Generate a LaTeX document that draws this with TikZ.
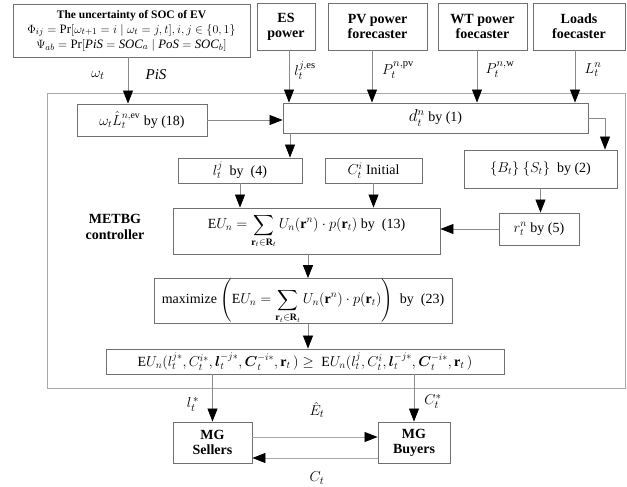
\documentclass[tikz,border=0pt]{standalone}
\usepackage{amsmath}
\usepackage{fontspec}
\setmainfont{Liberation Serif}
\usetikzlibrary{arrows.meta}
\definecolor{boxgray}{HTML}{707070}
\definecolor{linegray}{HTML}{8A8A8A}
\definecolor{ctrlgray}{HTML}{A8A8A8}
\tikzset{
  box/.style={draw=boxgray, line width=0.9pt, rectangle, inner sep=0pt, align=center, font=\fontsize{14}{16}\selectfont},
  hbox/.style={box, font=\fontsize{14}{15}\selectfont\bfseries},
  conn/.style={draw=linegray, line width=0.8pt, -{Triangle[length=13pt,width=10pt,color=black]}},
  lbl/.style={inner sep=0pt, font=\fontsize{15}{17}\selectfont},
}
\newcommand{\EE}{\mathrm{E}}
\begin{document}
\begin{tikzpicture}[x=1pt,y=-1pt]
\useasboundingbox (0,0) rectangle (627,487);
% container
\node[draw=ctrlgray, line width=0.9pt, minimum width=578pt, minimum height=295pt, inner sep=0pt] (ctrl) at (336,240.5) {};
% top boxes
\node[box, minimum width=237pt, minimum height=53pt] (unc) at (131.5,30.5)
  {{\fontsize{11.5}{12}\selectfont\bfseries The uncertainty of SOC of EV}\\[-1pt]
   {\fontsize{12.8}{14}\selectfont $\Phi_{ij}=\Pr[\omega_{t+1}=i\mid\omega_t=j,t],i,j\in\{0,1\}$}\\[-1pt]
   {\fontsize{12.8}{14}\selectfont $\Psi_{ab}=\Pr[\mathit{PiS}=\mathit{SOC}_a\mid \mathit{PoS}=\mathit{SOC}_b]$}};
\node[hbox, minimum width=58pt, minimum height=47pt] (es) at (286,26.5) {ES\\power};
\node[hbox, minimum width=99pt, minimum height=47pt] (pv) at (377.5,26.5) {PV power\\forecaster};
\node[hbox, minimum width=89pt, minimum height=47pt] (wt) at (482.5,26.5) {WT power\\foecaster};
\node[hbox, minimum width=92pt, minimum height=47pt] (ld) at (579,26.5) {Loads\\foecaster};
% inner boxes
\node[box, minimum width=130pt, minimum height=32pt] (om) at (142,120) {$\omega_t\hat{L}_t^{n,\mathrm{ev}}$ by (18)};
\node[box, minimum width=305pt, minimum height=30pt] (d) at (435.5,118) {{\fontsize{16}{18}\selectfont$d_t^n$} by (1)};
\node[box, minimum width=124pt, minimum height=25pt] (l) at (240,170.5) {$l_t^j$\ \ by\ \ (4)};
\node[box, minimum width=97pt, minimum height=25pt] (C) at (373.5,170.5) {$C_t^i$ Initial};
\node[box, minimum width=153pt, minimum height=38pt] (B) at (540.5,169) {$\{B_t\}\ \{S_t\}$\ \ by (2)};
\node[box, minimum width=80pt, minimum height=32pt] (r) at (539,229) {$r_t^n$ by (5)};
\node[box, minimum width=267pt, minimum height=46pt] (EU) at (306.5,231)
  {$\EE U_n=\displaystyle\sum_{\mathbf{r}_t\in\mathbf{R}_t}U_n(\mathbf{r}^n)\cdot p(\mathbf{r}_t)$ by\ \ (13)};
\node[box, minimum width=298pt, minimum height=40pt] (mx) at (303,301)
  {maximize $\left(\EE U_n=\displaystyle\sum_{\mathbf{r}_t\in\mathbf{R}_t}U_n(\mathbf{r}^n)\cdot p(\mathbf{r}_t)\right)$\ \ by\ \ (23)};
\node[box, minimum width=398pt, minimum height=25pt] (iq) at (305,361.5)
  {$\EE U_n(l_t^{j*},C_t^{i*},\boldsymbol{l}_t^{-j*},\boldsymbol{C}_t^{-i*},\mathbf{r}_t\,)\geq\ \EE U_n(l_t^{j},C_t^{i},\boldsymbol{l}_t^{-j*},\boldsymbol{C}_t^{-i*},\mathbf{r}_t\,)$};
\node[hbox, minimum width=79pt, minimum height=41pt] (sel) at (212.5,442.5) {MG\\Sellers};
\node[hbox, minimum width=72pt, minimum height=41pt] (buy) at (414,442.5) {MG\\Buyers};
\node[inner sep=0pt, align=center, font=\fontsize{14}{16}\selectfont\bfseries] (met) at (115,227) {METBG\\controller};
% connectors from top
\draw[conn] ([xshift=-3.5pt]unc.south) -- ([xshift=-3.5pt]unc.south |- om.north);
\draw[conn] ([xshift=3pt]es.south) -- ([xshift=3pt]es.south |- d.north);
\draw[conn] ([xshift=-5.5pt]pv.south) -- ([xshift=-5.5pt]pv.south |- d.north);
\draw[conn] ([xshift=-5.5pt]wt.south) -- ([xshift=-5.5pt]wt.south |- d.north);
\draw[conn] ([xshift=-4pt]ld.south) -- ([xshift=-4pt]ld.south |- d.north);
\node[lbl] (lw) at (98,75) {$\omega_t$};
\node[lbl] (lp) at (156,75) {$\mathit{PiS}$};
\node[lbl] (les) at (305,70) {$l_t^{j,\mathrm{es}}$};
\node[lbl] (lpv) at (398,70) {$P_t^{n,\mathrm{pv}}$};
\node[lbl] (lwt) at (500,70) {$P_t^{n,\mathrm{w}}$};
\node[lbl] (lld) at (593,70) {$L_t^{n}$};
% inner connectors
\draw[conn] (om.east) -- (om.east -| d.west);
\draw[conn] ([xshift=-145.5pt]d.south) -- ([xshift=-145.5pt]d.south |- l.north);
\draw[conn] (d.east) -| (605,0 |- B.north);
\draw[conn] (l.south) -- (l.south |- EU.north);
\draw[conn] (C.south) -- (C.south |- EU.north);
\draw[conn] (B.south) -- (B.south |- r.north);
\draw[conn] (r.west) -- (r.west -| EU.east);
\draw[conn] ([xshift=1.5pt]EU.south) -- ([xshift=1.5pt]EU.south |- mx.north);
\draw[conn] ([xshift=5pt]mx.south) -- ([xshift=5pt]mx.south |- iq.north);
\draw[conn] (sel.north |- iq.south) -- (sel.north);
\draw[conn] (buy.north |- iq.south) -- (buy.north);
\node[lbl] (lls) at (193,404) {$l_t^{\,*}$};
\node[lbl] (lcs) at (433,401) {$C_t^{*}$};
\draw[conn, draw=ctrlgray] ([yshift=5.5pt]sel.east) -- ([yshift=5.5pt]sel.east -| buy.west);
\draw[conn, draw=ctrlgray] ([yshift=-15.5pt]buy.west) -- ([yshift=-15.5pt]buy.west -| sel.east);
\node[lbl] (le) at (317,410) {$\hat{E}_t$};
\node[lbl] (lc) at (317,478) {$C_t$};
\end{tikzpicture}
\end{document}
